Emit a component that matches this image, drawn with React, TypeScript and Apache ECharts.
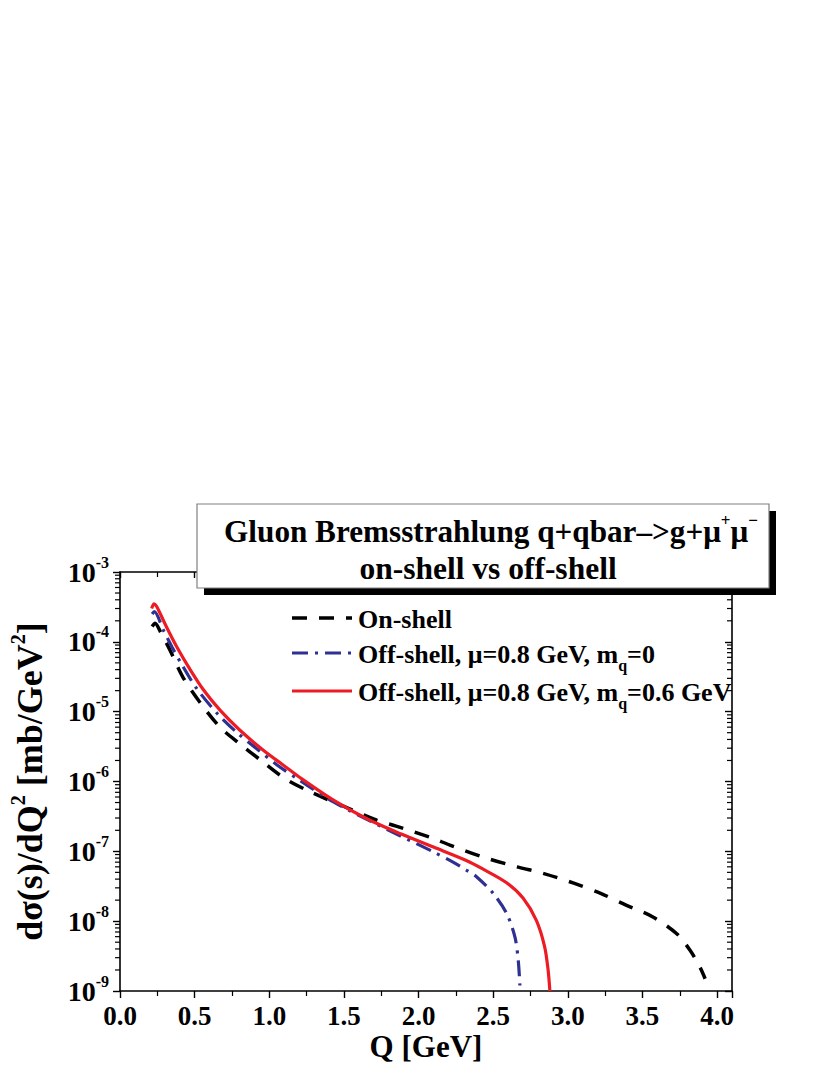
import React, { useEffect, useRef } from "react";
import * as echarts from "echarts";

// ---- data ----
const onShellQ = [0.215, 0.235, 0.27, 0.335, 0.42, 0.54, 0.67, 0.80, 0.94, 1.10, 1.27, 1.50, 1.72, 1.85, 2.08, 2.21, 2.43, 2.66, 2.84, 3.04, 3.22, 3.39, 3.57, 3.73, 3.82, 3.885, 3.92];
const onShellVal = [1.66e-4, 1.84e-4, 1.4e-4, 7.6e-5, 3.16e-5, 1.32e-5, 6.0e-6, 3.5e-6, 2.04e-6, 1.12e-6, 7.2e-7, 4.4e-7, 2.8e-7, 2.3e-7, 1.58e-7, 1.23e-7, 8.3e-8, 6.0e-8, 4.8e-8, 3.5e-8, 2.5e-8, 1.7e-8, 1.15e-8, 6.6e-9, 3.8e-9, 2.2e-9, 1.5e-9];

const offShell0Q = [0.215, 0.23, 0.29, 0.35, 0.41, 0.51, 0.65, 0.78, 0.92, 1.05, 1.21, 1.43, 1.65, 1.88, 2.10, 2.21, 2.32, 2.39, 2.50, 2.59, 2.646, 2.668, 2.679];
const offShell0Val = [2.5e-4, 2.7e-4, 1.48e-4, 8.3e-5, 4.9e-5, 2.2e-5, 9.5e-6, 5.1e-6, 2.9e-6, 1.74e-6, 1.02e-6, 5.1e-7, 2.9e-7, 1.66e-7, 9.8e-8, 7.4e-8, 5.4e-8, 4.3e-8, 2.5e-8, 1.29e-8, 5.9e-9, 2.75e-9, 1.2e-9];

const offShell06Q = [0.212, 0.228, 0.246, 0.31, 0.38, 0.47, 0.56, 0.67, 0.80, 0.96, 1.09, 1.21, 1.43, 1.65, 1.88, 2.10, 2.32, 2.43, 2.59, 2.70, 2.79, 2.845, 2.868, 2.88];
const offShell06Val = [3.0e-4, 3.5e-4, 3.2e-4, 1.66e-4, 8.5e-5, 4.0e-5, 2.04e-5, 1.05e-5, 5.5e-6, 2.8e-6, 1.74e-6, 1.12e-6, 5.4e-7, 2.95e-7, 1.78e-7, 1.15e-7, 7.4e-8, 5.6e-8, 3.55e-8, 2.14e-8, 1.02e-8, 4.3e-9, 2.0e-9, 1.0e-9];

const xMin = 0;
const xMax = 4.1;
const xInterval = 0.5;
const yMin = 1e-9;
const yMax = 1e-3;

const legendNames = [
  "On-shell",
  "Off-shell, μ=0.8 GeV, m_q=0",
  "Off-shell, μ=0.8 GeV, m_q=0.6 GeV",
];
const titleLine1 = "Gluon Bremsstrahlung q+qbar–>g+μ";
const titleLine2 = "on-shell vs off-shell";

const FONT = "'Liberation Serif', 'Times New Roman', serif";
const BLACK = "#000000";
const BLUE = "#2E3192";
const RED = "#ED1C24";

const DASH_BLACK = [15, 12];
const DASH_BLUE = [16, 7, 3, 7];

function zip(xs: number[], ys: number[]) {
  return xs.map((x, i) => [x, ys[i]]);
}

// minor tick values on the log axis (2..9 in each decade)
const minorTickValues: number[] = [];
for (let e = -9; e < -3; e++) {
  for (let k = 2; k <= 9; k++) minorTickValues.push(k * Math.pow(10, e));
}

export default function App() {
  const ref = useRef<HTMLDivElement>(null);

  useEffect(() => {
    if (!ref.current) return;
    const chart = echarts.init(ref.current, null, { renderer: "svg" });

    const gridLeft = 120;
    const gridTop = 572;
    const gridW = 612;
    const gridH = 419;

    const labelRich = {
      b: { fontFamily: FONT, fontWeight: "bold", fontSize: 28, color: BLACK, lineHeight: 36 },
      s: { fontFamily: FONT, fontWeight: "bold", fontSize: 16, color: BLACK, verticalAlign: "top", lineHeight: 16 },
    };

    const legendRich = {
      a: { fontFamily: FONT, fontWeight: "bold", fontSize: 26, color: BLACK, lineHeight: 38 },
      sub: { fontFamily: FONT, fontWeight: "bold", fontSize: 16, color: BLACK, verticalAlign: "bottom", lineHeight: 16 },
    };

    const legendX0 = 292;
    const legendX1 = 352;
    const legendTextX = 358;
    const legendRows = [618, 653, 691];
    const legendStyles = [
      { color: BLACK, dash: DASH_BLACK, width: 3.5 },
      { color: BLUE, dash: DASH_BLUE, width: 3.2 },
      { color: RED, dash: null as number[] | null, width: 3.2 },
    ];
    const legendTexts = legendNames.map((n) => {
      const parts = n.split("_q");
      if (parts.length === 1) return `{a|${n}}`;
      return `{a|${parts[0]}}{sub|q}{a|${parts[1]}}`;
    });

    const graphic: any[] = [];
    // title box with shadow
    graphic.push({
      type: "rect",
      z: 100,
      shape: { x: 204, y: 511, width: 572, height: 84 },
      style: { fill: "#000" },
    });
    graphic.push({
      type: "rect",
      z: 101,
      shape: { x: 197, y: 504, width: 572, height: 84 },
      style: { fill: "#fff", stroke: "#808080", lineWidth: 1.2 },
    });
    graphic.push({
      type: "text",
      z: 102,
      x: 491,
      y: 531,
      style: {
        text: `{a|${titleLine1}}{s|+}{a|μ}{s|−}`,
        align: "center",
        verticalAlign: "middle",
        rich: {
          a: { fontFamily: FONT, fontWeight: "bold", fontSize: 31.2, color: BLACK, lineHeight: 38 },
          s: { fontFamily: FONT, fontWeight: "bold", fontSize: 17, color: BLACK, verticalAlign: "top", lineHeight: 17 },
        },
      },
    });
    graphic.push({
      type: "text",
      z: 102,
      x: 488,
      y: 568,
      style: {
        text: titleLine2,
        align: "center",
        verticalAlign: "middle",
        fontFamily: FONT,
        fontWeight: "bold",
        fontSize: 31.5,
        fill: BLACK,
      },
    });
    legendRows.forEach((y, i) => {
      const st = legendStyles[i];
      graphic.push({
        type: "line",
        z: 50,
        shape: { x1: legendX0, y1: y, x2: legendX1, y2: y },
        style: { stroke: st.color, lineWidth: st.width, lineDash: st.dash || undefined },
      });
      graphic.push({
        type: "text",
        z: 50,
        x: legendTextX,
        y: y + 1,
        style: {
          text: legendTexts[i],
          align: "left",
          verticalAlign: "middle",
          rich: legendRich,
        },
      });
    });

    const yLabelFormatter = (v: number) => {
      const e = Math.round(Math.log10(v));
      return `{b|10}{s|${e}}`;
    };

    const option: any = {
      animation: false,
      backgroundColor: "#ffffff",
      grid: {
        left: gridLeft,
        top: gridTop,
        width: gridW,
        height: gridH,
        containLabel: false,
        outerBoundsMode: "none",
      },
      xAxis: [
        {
          type: "value",
          position: "bottom",
          min: xMin,
          max: xMax,
          interval: xInterval,
          name: "Q [GeV]",
          nameLocation: "middle",
          nameGap: 40,
          nameTextStyle: { fontFamily: FONT, fontWeight: "bold", fontSize: 31, color: BLACK, verticalAlign: "top" },
          axisLine: { show: true, onZero: false, lineStyle: { color: BLACK, width: 1.6 } },
          axisTick: { show: true, inside: false, length: 7, lineStyle: { color: BLACK, width: 1.4 } },
          minorTick: { show: true, splitNumber: 2, length: 5, lineStyle: { color: BLACK, width: 1.2 } },
          axisLabel: {
            showMaxLabel: false,
            margin: 11,
            fontFamily: FONT,
            fontWeight: "bold",
            fontSize: 27,
            color: BLACK,
            formatter: (v: number) => v.toFixed(1),
          },
          splitLine: { show: false },
        },
        {
          type: "value",
          position: "top",
          min: xMin,
          max: xMax,
          interval: xInterval,
          axisLine: { show: true, onZero: false, lineStyle: { color: BLACK, width: 1.6 } },
          axisTick: { show: true, inside: true, length: 6, lineStyle: { color: BLACK, width: 1.4 } },
          minorTick: { show: true, splitNumber: 2, length: 5, lineStyle: { color: BLACK, width: 1.2 } },
          axisLabel: { show: false },
          splitLine: { show: false },
        },
      ],
      yAxis: [
        {
          type: "log",
          logBase: 10,
          position: "left",
          min: yMin,
          max: yMax,
          splitNumber: 6,
          name: "{a|dσ(s)/dQ}{s|2}{a| [mb/GeV}{s|2}{a|]}",
          nameLocation: "middle",
          nameGap: 68,
          nameTextStyle: {
            rich: {
              a: { fontFamily: FONT, fontWeight: "bold", fontSize: 36, color: BLACK, lineHeight: 44 },
              s: { fontFamily: FONT, fontWeight: "bold", fontSize: 20, color: BLACK, verticalAlign: "top", lineHeight: 20 },
            },
          },
          axisLine: { show: true, onZero: false, lineStyle: { color: BLACK, width: 1.6 } },
          axisTick: { show: true, inside: false, length: 7, lineStyle: { color: BLACK, width: 1.4 } },
          axisLabel: {
            margin: 11,
            formatter: yLabelFormatter,
            rich: labelRich,
          },
          splitLine: { show: false },
        },
        {
          type: "log",
          logBase: 10,
          position: "right",
          min: yMin,
          max: yMax,
          splitNumber: 6,
          axisLine: { show: true, onZero: false, lineStyle: { color: BLACK, width: 1.6 } },
          axisTick: { show: true, inside: true, length: 7, lineStyle: { color: BLACK, width: 1.4 } },
          axisLabel: { show: false },
          splitLine: { show: false },
        },
      ],
      graphic,
      series: [
        {
          type: "line",
          name: legendNames[0],
          data: zip(onShellQ, onShellVal),
          showSymbol: false,
          symbol: "none",
          smooth: 0.3,
          clip: true,
          lineStyle: { color: BLACK, width: 3.5, type: DASH_BLACK, cap: "butt" },
          z: 3,
        },
        {
          type: "line",
          name: legendNames[1],
          data: zip(offShell0Q, offShell0Val),
          showSymbol: false,
          symbol: "none",
          smooth: 0.3,
          clip: true,
          lineStyle: { color: BLUE, width: 3.2, type: DASH_BLUE, cap: "butt" },
          z: 4,
        },
        {
          type: "line",
          name: legendNames[2],
          data: zip(offShell06Q, offShell06Val),
          showSymbol: false,
          symbol: "none",
          smooth: 0.3,
          clip: true,
          lineStyle: { color: RED, width: 3.2 },
          z: 5,
        },
      ],
    };

    chart.setOption(option);

    // minor ticks of the log axes, positioned through the axis scale
    const xLeft = chart.convertToPixel({ xAxisIndex: 0 }, xMin) as number;
    const xRight = chart.convertToPixel({ xAxisIndex: 0 }, xMax) as number;
    const tickEls: any[] = [];
    minorTickValues.forEach((v) => {
      const py = chart.convertToPixel({ yAxisIndex: 0 }, v) as number;
      if (typeof py !== "number" || !isFinite(py)) return;
      tickEls.push({
        type: "line",
        z: 20,
        silent: true,
        shape: { x1: xLeft - 5, y1: py, x2: xLeft, y2: py },
        style: { stroke: BLACK, lineWidth: 1.2 },
      });
      tickEls.push({
        type: "line",
        z: 20,
        silent: true,
        shape: { x1: xRight - 5, y1: py, x2: xRight, y2: py },
        style: { stroke: BLACK, lineWidth: 1.2 },
      });
    });
    chart.setOption({ graphic: [...graphic, ...tickEls] });

    return () => {
      chart.dispose();
    };
  }, []);

  return (
    <div
      ref={ref}
      style={{ position: "absolute", left: 0, top: 0, width: 830, height: 1075, background: "#fff" }}
    />
  );
}
